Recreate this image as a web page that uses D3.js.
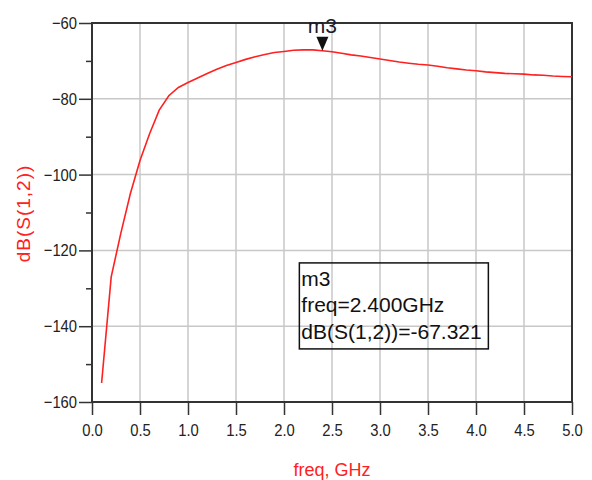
<!DOCTYPE html>
<html>
<head>
<meta charset="utf-8">
<script src="https://cdn.jsdelivr.net/npm/d3@7"></script>
<style>
  body { margin: 0; background: #fff; }
  svg { display: block; font-family: "Liberation Sans", Arial, sans-serif; }
</style>
</head>
<body>
<div id="chart"></div>
<script>
// frequency sweep, GHz
const freq = [0.1, 0.2, 0.3, 0.4, 0.5, 0.6, 0.7, 0.8, 0.9, 1.0,
	1.1, 1.2, 1.3, 1.4, 1.5, 1.6, 1.7, 1.8, 1.9, 2.0,
	2.1, 2.2, 2.3, 2.4, 2.5, 2.6, 2.7, 2.8, 2.9, 3.0,
	3.1, 3.2, 3.3, 3.4, 3.5, 3.6, 3.7, 3.8, 3.9, 4.0,
	4.1, 4.2, 4.3, 4.4, 4.5, 4.6, 4.7, 4.8, 4.9, 5.0];
// dB(S(1,2))
const s12 = [-155, -127, -115.5, -105, -96.3, -89.2, -83, -79.2, -77, -75.7,
	-74.5, -73.3, -72.2, -71.2, -70.4, -69.6, -68.9, -68.3, -67.8, -67.5,
	-67.2, -67.1, -67.1, -67.321, -67.6, -68.0, -68.4, -68.7, -69.1, -69.5,
	-69.9, -70.3, -70.6, -70.9, -71.1, -71.4, -71.8, -72.1, -72.4, -72.6,
	-72.9, -73.1, -73.3, -73.4, -73.5, -73.7, -73.8, -74.0, -74.1, -74.2];

const xTicks = [0.0, 0.5, 1.0, 1.5, 2.0, 2.5, 3.0, 3.5, 4.0, 4.5, 5.0];
const yTicks = [-160, -140, -120, -100, -80, -60];
const yMinorTicks = [-150, -130, -110, -90, -70];

const marker = { name: 'm3', freq: 2.4, value: -67.321 };
const markerLines = ['m3', 'freq=2.400GHz', 'dB(S(1,2))=-67.321'];

const width = 592;
const height = 480;
const margin = { top: 23, right: 20, bottom: 78, left: 92 };

const svg = d3
	.select('#chart')
	.append('svg')
	.attr('width', width)
	.attr('height', height);

const xScale = d3.scaleLinear().domain([ 0, 5 ]).range([ margin.left, width - margin.right ]);
const yScale = d3.scaleLinear().domain([ -160, -60 ]).range([ height - margin.bottom, margin.top ]);

// grid
svg
	.append('g')
	.selectAll('line')
	.data(xTicks.slice(1, -1))
	.join('line')
	.attr('x1', (d) => xScale(d))
	.attr('x2', (d) => xScale(d))
	.attr('y1', yScale(-60))
	.attr('y2', yScale(-160))
	.style('stroke', '#c8c8c8')
	.style('stroke-width', 1.5);

svg
	.append('g')
	.selectAll('line')
	.data(yTicks.slice(1, -1))
	.join('line')
	.attr('x1', xScale(0))
	.attr('x2', xScale(5))
	.attr('y1', (d) => yScale(d))
	.attr('y2', (d) => yScale(d))
	.style('stroke', '#c8c8c8')
	.style('stroke-width', 1.5);

// minor ticks on the left
const yMinor = svg
	.append('g')
	.attr('transform', `translate(${xScale(0)},0)`)
	.call(d3.axisLeft(yScale).tickValues(yMinorTicks).tickSize(6).tickFormat(''));
yMinor.select('.domain').remove();
yMinor.selectAll('line').style('stroke', '#333').style('stroke-width', 1.5);

// major left axis
const yAxis = svg
	.append('g')
	.attr('transform', `translate(${xScale(0)},0)`)
	.call(d3.axisLeft(yScale).tickValues(yTicks).tickSize(13).tickFormat(d3.format('d')));
yAxis.select('.domain').remove();
yAxis.selectAll('line').style('stroke', '#333').style('stroke-width', 1.5);
yAxis
	.selectAll('text')
	.attr('x', -17.2)
	.attr('transform', 'scale(0.87,1)')
	.style('font-size', '17px')
	.style('fill', '#222');

// bottom axis
const xAxis = svg
	.append('g')
	.attr('transform', `translate(0,${yScale(-160)})`)
	.call(d3.axisBottom(xScale).tickValues(xTicks).tickSize(13).tickFormat(d3.format('.1f')));
xAxis.select('.domain').remove();
xAxis.selectAll('line').style('stroke', '#333').style('stroke-width', 1.5);
xAxis
	.selectAll('text')
	.attr('x', 0)
	.attr('y', 22)
	.attr('transform', 'scale(0.87,1)')
	.style('font-size', '17px')
	.style('fill', '#222');

// plot frame
svg
	.append('rect')
	.attr('x', xScale(0))
	.attr('y', yScale(-60))
	.attr('width', xScale(5) - xScale(0))
	.attr('height', yScale(-160) - yScale(-60))
	.style('fill', 'none')
	.style('stroke', '#333')
	.style('stroke-width', 2);

// S12 trace
const line = d3.line().x((d, i) => xScale(freq[i])).y((d) => yScale(d));
svg
	.append('path')
	.data([ s12 ])
	.attr('d', line)
	.style('fill', 'none')
	.style('stroke', '#ff2020')
	.style('stroke-width', 1.6);

// marker triangle + name
const mx = xScale(marker.freq);
const my = yScale(marker.value);
svg
	.append('path')
	.attr('d', `M${mx - 6},${my - 14}L${mx + 6},${my - 14}L${mx},${my}Z`)
	.style('fill', '#111');

svg
	.append('text')
	.attr('x', mx)
	.attr('y', my - 18)
	.attr('text-anchor', 'middle')
	.style('font-size', '21px')
	.style('fill', '#1a1a2a')
	.text(marker.name);

// marker readout box
const boxX = xScale(2.16);
const boxY = yScale(-123.3);
svg
	.append('rect')
	.attr('x', boxX)
	.attr('y', boxY)
	.attr('width', 189)
	.attr('height', 86)
	.style('fill', 'none')
	.style('stroke', '#111')
	.style('stroke-width', 1.5);

svg
	.append('g')
	.selectAll('text')
	.data(markerLines)
	.join('text')
	.attr('x', boxX + 2)
	.attr('y', (d, i) => boxY + 23 + i * 26.5)
	.style('font-size', '21px')
	.style('fill', '#111')
	.text((d) => d);

// axis titles
svg
	.append('text')
	.attr('x', (xScale(0) + xScale(5)) / 2)
	.attr('y', 476)
	.attr('text-anchor', 'middle')
	.style('font-size', '18px')
	.style('fill', '#ff2020')
	.text('freq, GHz');

svg
	.append('text')
	.attr('transform', `translate(30,${(yScale(-60) + yScale(-160)) / 2 + 1}) rotate(-90)`)
	.attr('text-anchor', 'middle')
	.style('font-size', '19px')
	.style('letter-spacing', '1px')
	.style('fill', '#ff2020')
	.text('dB(S(1,2))');
</script>
</body>
</html>
